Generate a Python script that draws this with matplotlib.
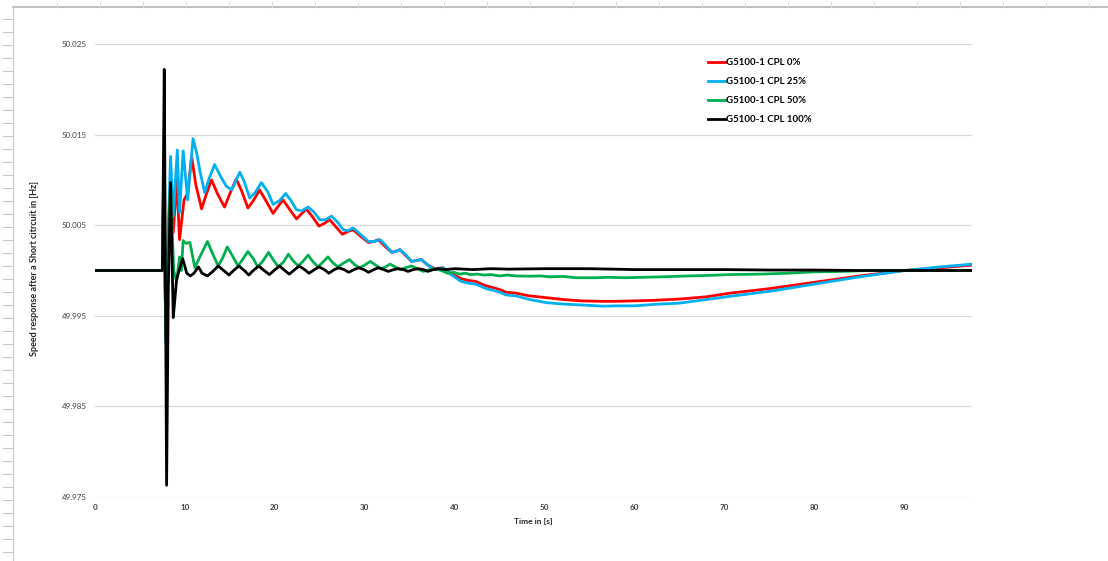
import matplotlib
matplotlib.use("Agg")
import matplotlib.pyplot as plt
from matplotlib.lines import Line2D

plt.rcParams["font.family"] = ["Lato", "DejaVu Sans"]

# ---- data: generator speed after a short circuit, per CPL share ----
t_cpl0 = [0, 7.5, 7.6, 7.75, 7.9, 8.1, 8.4, 8.7, 9.1, 9.4, 9.9, 10.3, 10.74, 11.2, 11.85,
          12.4, 12.96, 13.6, 14.4, 15.0, 15.7, 16.3, 17.0, 17.6, 18.3, 19.0, 19.8, 20.3,
          20.9, 21.6, 22.4, 22.9, 23.5, 24.2, 24.9, 25.5, 26.1, 26.8, 27.5, 28.1, 28.7,
          29.5, 30.4, 31.0, 31.5, 32.2, 33.0, 33.4, 33.9, 34.5, 35.2, 35.7, 36.3, 37.0,
          37.8, 38.7, 39.5, 40.7, 41.5, 42.3, 43.5, 44.3, 45.0, 45.7, 46.8, 48.3, 50.2,
          52, 54, 56.1, 58, 60, 62, 65, 68, 70.6, 75, 80, 85, 90, 94, 97.5]
f_cpl0 = [50.0, 50.0, 50.0080, 50.0, 49.9925, 50.0020, 50.0060, 50.0042, 50.0100, 50.0034,
          50.0078, 50.0085, 50.0126, 50.0095, 50.0068, 50.0085, 50.0100, 50.0085, 50.0070,
          50.0085, 50.0101, 50.0088, 50.0069, 50.0077, 50.0089, 50.0077, 50.0063, 50.0070,
          50.0078, 50.0068, 50.0057, 50.0062, 50.0068, 50.0059, 50.0049, 50.0052, 50.0056,
          50.0048, 50.0040, 50.0043, 50.0045, 50.0038, 50.0031, 50.0032, 50.0034, 50.0027,
          50.0020, 50.0021, 50.0023, 50.0017, 50.0010, 50.0011, 50.0012, 50.0006, 50.0002,
          50.0003, 49.9997, 49.9991, 49.9989, 49.9988, 49.9983, 49.9981, 49.9979, 49.9976,
          49.9975, 49.9972, 49.9970, 49.9968, 49.99665, 49.9966, 49.9966, 49.99665, 49.9967,
          49.99685, 49.9971, 49.9975, 49.9980, 49.9987, 49.9994, 50.0000, 50.0003, 50.0006]

t_cpl25 = [0, 7.5, 7.6, 7.75, 7.9, 8.1, 8.4, 8.7, 9.15, 9.4, 9.8, 10.3, 10.9, 11.3, 11.7,
           12.2, 12.7, 13.3, 13.9, 14.6, 15.2, 16.1, 16.6, 17.2, 17.8, 18.5, 19.2, 19.8,
           20.5, 21.2, 21.8, 22.4, 23.0, 23.7, 24.3, 25.0, 25.6, 26.3, 27.0, 27.6, 28.1,
           28.7, 29.5, 30.4, 31.0, 31.7, 32.3, 33.0, 33.4, 33.9, 34.5, 35.2, 35.7, 36.3,
           37.0, 37.8, 38.3, 38.7, 39.5, 40.7, 41.5, 42.3, 43.5, 44.3, 45.0, 45.7, 46.8,
           48.3, 50.2, 52, 54, 56.5, 58, 60, 62, 65, 68, 70.6, 75, 80, 85, 90, 94, 97.5]
f_cpl25 = [50.0, 50.0, 50.0086, 50.0005, 49.9920, 50.0030, 50.0126, 50.0060, 50.0133,
           50.0064, 50.0132, 50.0078, 50.01455, 50.0130, 50.0108, 50.0086, 50.0102, 50.0117,
           50.0105, 50.0093, 50.0089, 50.01085, 50.0098, 50.0080, 50.0086, 50.0097, 50.0087,
           50.0073, 50.0077, 50.0085, 50.0077, 50.0067, 50.0066, 50.0070, 50.0065, 50.0056,
           50.0056, 50.0060, 50.0053, 50.0045, 50.0044, 50.0047, 50.0040, 50.0032, 50.0032,
           50.0034, 50.0028, 50.0020, 50.0021, 50.0023, 50.0018, 50.0010, 50.0011, 50.0012,
           50.0006, 50.0001, 50.0002, 50.0003, 49.9996, 49.9988, 49.9986, 49.9985, 49.9980,
           49.9978, 49.9976, 49.9973, 49.9972, 49.9968, 49.99645, 49.9963, 49.9962, 49.99606,
           49.9961, 49.9961, 49.99625, 49.9964, 49.9968, 49.99715, 49.9977, 49.9985, 49.9993,
           50.0000, 50.0004, 50.0007]

t_cpl50 = [0, 7.5, 7.6, 7.75, 7.9, 8.1, 8.4, 8.75, 9.07, 9.4, 9.6, 9.8, 10.1, 10.55, 11.1,
           11.8, 12.5, 13.1, 13.7, 14.2, 14.7, 15.3, 15.9, 16.4, 17.0, 17.6, 18.1, 18.7,
           19.3, 19.8, 20.4, 21.0, 21.5, 22.0, 22.6, 23.1, 23.7, 24.2, 24.8, 25.3, 25.9,
           26.4, 27.0, 27.6, 28.3, 28.8, 29.4, 30.0, 30.6, 31.2, 31.8, 32.3, 32.8, 33.4,
           33.9, 34.5, 35.2, 35.8, 36.5, 37.2, 37.8, 38.5, 39.2, 39.9, 40.5, 41.2, 41.7,
           42.5, 43.3, 44.0, 45.0, 45.8, 46.8, 48.3, 49.5, 50.6, 52, 53.5, 55.7, 57, 59, 61,
           63, 66, 68, 70.6, 74, 77, 80, 83, 86, 90, 97.5]
f_cpl50 = [50.0, 50.0, 50.0075, 50.0, 49.9930, 50.0030, 50.0095, 50.0000, 49.9988, 50.0015,
           50.0000, 50.0033, 50.0030, 50.0031, 50.0003, 50.0018, 50.0032, 50.0018, 50.0005,
           50.0014, 50.0026, 50.0016, 50.0005, 50.0012, 50.0021, 50.0013, 50.0004, 50.0011,
           50.0020, 50.0012, 50.0004, 50.0010, 50.0018, 50.0011, 50.0005, 50.0010, 50.0017,
           50.0010, 50.0004, 50.0009, 50.0015, 50.0009, 50.0004, 50.0008, 50.0012, 50.0007,
           50.0003, 50.0006, 50.0010, 50.0006, 50.0002, 50.0004, 50.0007, 50.0004, 50.0001,
           50.0003, 50.0005, 50.0002, 49.9999, 50.0001, 50.0002, 50.0000, 49.9997, 49.9998,
           49.9996, 49.9997, 49.99955, 49.9996, 49.9995, 49.99955, 49.9994, 49.9995, 49.9994,
           49.99937, 49.9994, 49.9993, 49.99935, 49.9992, 49.9992, 49.99925, 49.9992,
           49.99925, 49.9993, 49.9994, 49.99945, 49.99955, 49.9996, 49.9997, 49.99985,
           49.9999, 50.0000, 50.0000, 50.0000]

t_cpl100 = [0, 7.5, 7.55, 7.7, 7.96, 8.15, 8.4, 8.7, 9.07, 9.4, 9.75, 10.2, 10.6, 11.0,
            11.5, 11.9, 12.5, 13.1, 13.7, 14.3, 14.9, 15.4, 16.0, 16.6, 17.1, 17.6, 18.2,
            18.8, 19.4, 19.9, 20.5, 21.1, 21.6, 22.2, 22.7, 23.3, 23.8, 24.4, 24.9, 25.5,
            26.0, 26.6, 27.1, 27.7, 28.2, 28.8, 29.3, 29.9, 30.4, 31.0, 31.5, 32.1, 32.6,
            33.2, 33.7, 34.3, 34.8, 35.4, 35.9, 36.5, 37.0, 37.6, 38.2, 39, 40, 42, 44, 46,
            50, 55, 60, 65, 70, 75, 80, 85, 90, 97.5]
f_cpl100 = [50.0, 50.0, 50.0060, 50.0222, 49.9763, 49.9980, 50.0097, 49.9948, 49.9990,
            50.0002, 50.0013, 49.9997, 49.9994, 49.9997, 50.0004, 49.9997, 49.9994, 49.9999,
            50.0005, 50.0000, 49.9995, 50.0000, 50.0005, 50.0000, 49.9995, 50.0000, 50.0005,
            50.0000, 49.99955, 50.0000, 50.0005, 50.0000, 49.9996, 50.0001, 50.0005, 50.0001,
            49.9997, 50.0001, 50.0004, 50.0001, 49.9997, 50.0001, 50.0003, 50.0001, 49.9998,
            50.0001, 50.0003, 50.0001, 49.9998, 50.0001, 50.0003, 50.0001, 49.9999, 50.0001,
            50.0002, 50.0001, 49.9999, 50.0001, 50.0002, 50.0001, 49.9999, 50.0001, 50.0002,
            50.0001, 50.0002, 50.0001, 50.0002, 50.00015, 50.0002, 50.0002, 50.0001, 50.0001,
            50.0001, 50.00005, 50.00005, 50.0, 50.0, 50.0]

series_labels = ["G5100-1 CPL 0%", "G5100-1 CPL 25%", "G5100-1 CPL 50%", "G5100-1 CPL 100%"]
series_colors = ["#ff0000", "#00b0f0", "#00b050", "#000000"]

y_ticks = [49.975, 49.985, 49.995, 50.005, 50.015, 50.025]
y_ticklabels = ["49.975", "49.985", "49.995", "50.005", "50.015", "50.025"]
x_ticks = [0, 10, 20, 30, 40, 50, 60, 70, 80, 90]
x_ticklabels = ["0", "10", "20", "30", "40", "50", "60", "70", "80", "90"]

# ---- figure ----
W, H = 1108, 561
fig = plt.figure(figsize=(W / 100, H / 100), dpi=100)

# worksheet grid frame around the embedded chart
fig.add_artist(Line2D([13 / W, 1], [1 - 6.5 / H, 1 - 6.5 / H], color="#b4b4b4", lw=1.2))
fig.add_artist(Line2D([12.5 / W, 12.5 / W], [0, 1 - 6.5 / H], color="#d0d0d0", lw=1.0))
for cx in range(57, W, 43):
    fig.add_artist(Line2D([cx / W, cx / W], [1 - 6.5 / H, 1 - 2 / H], color="#dcdcdc", lw=0.8))
for ry in range(19, H, 13):
    fig.add_artist(Line2D([3 / W, 12 / W], [1 - ry / H, 1 - ry / H], color="#c8c8c8", lw=0.8))

left, right, top, bottom = 95, 972, 44, 497
ax = fig.add_axes([left / W, 1 - bottom / H, (right - left) / W, (bottom - top) / H])

data = [(t_cpl0, f_cpl0), (t_cpl25, f_cpl25), (t_cpl50, f_cpl50), (t_cpl100, f_cpl100)]
for (t, f), lab, col in zip(data, series_labels, series_colors):
    ax.plot(t, f, color=col, lw=2.0, label=lab, solid_joinstyle="round")

ax.set_xlim(0, 97.5)
ax.set_ylim(49.975, 50.025)
ax.set_yticks(y_ticks)
ax.set_yticklabels(y_ticklabels)
ax.set_xticks(x_ticks)
ax.set_xticklabels(x_ticklabels, fontweight="bold")
ax.tick_params(axis="both", length=0, labelsize=5.8, labelcolor="#404040")
ax.tick_params(axis="y", pad=6)
ax.tick_params(axis="x", pad=5)
ax.grid(axis="y", color="#d9d9d9", lw=0.9)
ax.set_axisbelow(True)
for s in ax.spines.values():
    s.set_visible(False)

ax.set_xlabel("Time in [s]", fontsize=6, fontweight="bold", color="#262626", labelpad=5)
fig.text(35 / W, 1 - 268 / H, "Speed response after a Short citrcuit in [Hz]",
         rotation=90, ha="center", va="center", fontsize=6.5, fontweight="bold",
         color="#262626")

leg = ax.legend(loc="upper left",
                bbox_to_anchor=((708 - left) / (right - left), 1 - (58 - top) / (bottom - top)),
                frameon=False, fontsize=6.9, handlelength=1.75, handletextpad=0.1,
                labelspacing=1.05, borderaxespad=0, borderpad=0)
for txt in leg.get_texts():
    txt.set_fontweight("bold")
    txt.set_color("#000000")

fig.savefig("out.png", dpi=100, facecolor="white")
